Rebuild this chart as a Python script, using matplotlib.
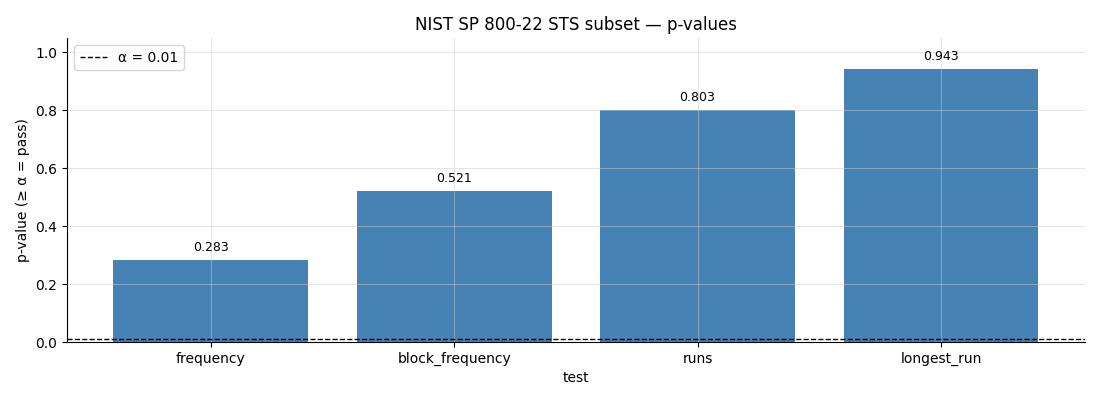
import matplotlib
matplotlib.use("Agg")
import matplotlib.pyplot as plt

tests = ["frequency", "block_frequency", "runs", "longest_run"]
pvalues = [0.283, 0.521, 0.803, 0.943]
alpha = 0.01

fig, ax = plt.subplots(figsize=(11, 4), dpi=100)
fig.subplots_adjust(left=0.061, right=0.986, top=0.905, bottom=0.145)

x = range(len(tests))
bars = ax.bar(x, pvalues, width=0.8, color="#4682B4", zorder=1)
ax.set_xticks(list(x))
ax.set_xticklabels(tests)
ax.axhline(alpha, color="black", linestyle="--", linewidth=1, label=f"α = {alpha}", zorder=3)
for xi, v in zip(x, pvalues):
    ax.text(xi, v + 0.02, f"{v:.3f}", ha="center", va="bottom", fontsize=9)

ax.set_ylim(0, 1.05)
ax.grid(True, color="#cccccc", alpha=0.6, linewidth=0.6, zorder=2)
ax.set_axisbelow(False)
for s in ("top", "right"):
    ax.spines[s].set_visible(False)
ax.set_xlabel("test")
ax.set_ylabel("p-value (≥ α = pass)")
ax.set_title("NIST SP 800-22 STS subset — p-values")
ax.legend(loc="upper left")

fig.savefig("out.png")
